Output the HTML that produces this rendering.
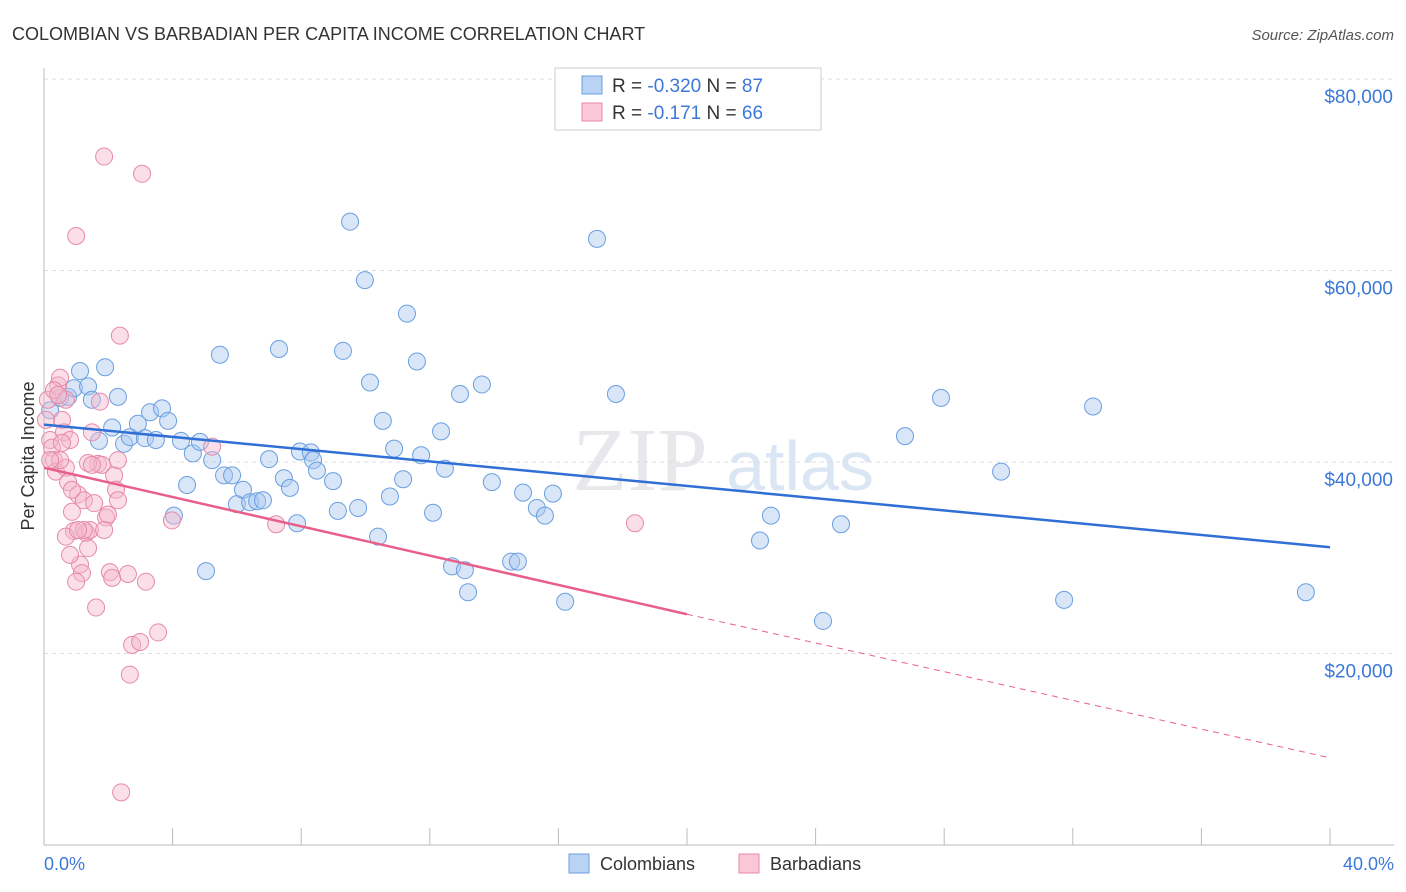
<!DOCTYPE html>
<html><head><meta charset="utf-8"><style>
body{margin:0;background:#fff;font-family:"Liberation Sans",sans-serif}
svg{display:block}
</style></head><body>
<svg id="chart" width="1406" height="892">
<text x="12" y="40" font-size="18" fill="#333">COLOMBIAN VS BARBADIAN PER CAPITA INCOME CORRELATION CHART</text>
<text x="1394" y="40" font-size="15" fill="#555" font-style="italic" text-anchor="end">Source: ZipAtlas.com</text>
<text x="640" y="490" font-size="90" fill="#e8e8ec" font-family="Liberation Serif" text-anchor="middle">ZIP</text>
<text x="800" y="490" font-size="70" fill="#dbe6f5" text-anchor="middle">atlas</text>
<g id="grid"></g><g id="axes"></g><g id="pts"></g><g id="lines"></g>
<text transform="translate(34,456) rotate(-90)" font-size="18" fill="#333" text-anchor="middle">Per Capita Income</text>
<text x="44" y="870" font-size="18" fill="#3c78d8">0.0%</text>
<text x="1394" y="870" font-size="18" fill="#3c78d8" text-anchor="end">40.0%</text>
<g>
<rect x="555" y="68" width="266" height="62" fill="#fff" stroke="#ccc"/>
<rect x="582" y="76" width="20" height="18" fill="#b9d3f5" stroke="#6a9fe0"/>
<rect x="582" y="103" width="20" height="18" fill="#f9c7d6" stroke="#e88aa8"/>
<text x="612" y="92" font-size="19" fill="#333">R = <tspan fill="#3c78d8">-0.320</tspan>   N = <tspan fill="#3c78d8">87</tspan></text>
<text x="612" y="119" font-size="19" fill="#333">R =   <tspan fill="#3c78d8">-0.171</tspan>   N = <tspan fill="#3c78d8">66</tspan></text>
</g>
<g>
<rect x="569" y="854" width="20" height="19" fill="#b9d3f5" stroke="#6a9fe0"/>
<text x="600" y="870" font-size="18" fill="#333">Colombians</text>
<rect x="739" y="854" width="20" height="19" fill="#f9c7d6" stroke="#e88aa8"/>
<text x="770" y="870" font-size="18" fill="#333">Barbadians</text>
</g>
</svg>
<script>
const yTicks=[20000,40000,60000,80000];
const yTickLabels=["$20,000","$40,000","$60,000","$80,000"];
const xTicks=[0,4,8,12,16,20,24,28,32,36,40];
const blueX=[0.19,0.50,0.75,0.93,1.12,1.37,1.49,1.71,1.90,2.12,2.30,2.49,2.67,2.92,3.14,3.30,3.48,3.67,3.86,4.04,4.26,4.45,4.63,4.85,5.04,5.23,5.47,5.60,5.85,6.00,6.19,6.41,6.63,6.81,7.00,7.31,7.46,7.65,7.87,7.96,8.30,8.37,8.49,8.99,9.14,9.30,9.52,9.77,9.98,10.14,10.39,10.54,10.76,10.89,11.17,11.29,11.60,11.73,12.10,12.35,12.47,12.69,12.94,13.09,13.19,13.62,13.93,14.53,14.74,14.90,15.33,15.58,15.83,16.21,17.20,17.79,22.27,22.61,24.23,24.79,26.78,27.90,29.77,31.73,32.63,39.25];
const blueY=[45.4,46.7,46.8,47.7,49.5,47.9,46.5,42.2,49.9,43.6,46.8,41.9,42.6,44.0,42.5,45.2,42.3,45.6,44.3,34.4,42.2,37.6,40.9,42.1,28.6,40.2,51.2,38.6,38.6,35.6,37.1,35.8,35.9,36.0,40.3,51.8,38.3,37.3,33.6,41.1,41.0,40.2,39.1,38.0,34.9,51.6,65.1,35.2,59.0,48.3,32.2,44.3,36.4,41.4,38.2,55.5,50.5,40.7,34.7,43.2,39.3,29.1,47.1,28.7,26.4,48.1,37.9,29.6,29.6,36.8,35.2,34.4,36.7,25.4,63.3,47.1,31.8,34.4,23.4,33.5,42.7,46.7,39.0,25.6,45.8,26.4];
const pinkX=[0.19,0.25,0.31,0.37,0.44,0.50,0.56,0.62,0.68,0.75,0.81,0.87,0.93,1.00,1.06,1.12,1.18,1.24,1.31,1.37,1.43,1.49,1.56,1.62,1.68,1.74,1.80,1.87,1.93,1.99,2.05,2.12,2.18,2.24,2.30,2.36,2.61,2.74,2.67,2.99,3.05,3.17,3.55,3.98,5.23,7.22,18.38,2.40,0.06,0.12,0.56,0.68,0.81,1.00,1.24,1.37,0.50,0.31,1.06,1.49,1.87,2.30,0.19,0.68,0.87,0.44];
const pinkY=[42.3,41.5,40.2,39.0,48.0,48.8,44.4,43.1,39.4,37.9,42.3,34.8,32.8,63.6,36.6,29.3,28.4,36.0,32.6,31.0,32.9,43.1,35.7,24.8,39.8,46.3,39.7,71.9,34.2,34.5,28.5,27.9,38.6,37.1,36.0,53.2,28.3,20.9,17.8,21.2,70.1,27.5,22.2,33.9,41.6,33.5,33.6,5.5,44.4,46.5,42.0,32.2,30.3,27.5,32.9,39.9,40.2,47.5,32.9,39.7,32.9,40.2,40.2,46.5,37.1,47.0];
const blueTrend=[43.9,31.1];
const pinkTrend=[39.4,24.1,9.1];
const NS="http://www.w3.org/2000/svg";
const sx=v=>44+v*32.15;
const sy=v=>845-v/20000*191.5;
function mk(tag,attrs,parent){const e=document.createElementNS(NS,tag);for(const k in attrs)e.setAttribute(k,attrs[k]);document.getElementById(parent).appendChild(e);return e;}
yTicks.forEach((t,i)=>{
 const l=mk('line',{x1:44,x2:1394,y1:sy(t),y2:sy(t),stroke:'#ddd','stroke-dasharray':'4,4'},'grid');
 
 
 const tx=mk('text',{x:1393,y:sy(t)+24,'font-size':19,fill:'#3c78d8','text-anchor':'end'},'grid');
 tx.textContent=yTickLabels[i];
 
 
});
const ax=mk('line',{x1:44,x2:1394,y1:845,y2:845,stroke:'#bbb'},'axes');


const ay=mk('line',{x1:44,x2:44,y1:68,y2:845,stroke:'#bbb'},'axes');


xTicks.forEach(t=>{
 const l=mk('line',{x1:sx(t),x2:sx(t),y1:828,y2:845,stroke:'#bbb'},'axes');
 
 
});
blueX.forEach((x,i)=>{
 const c=mk('circle',{cx:sx(x),cy:sy(blueY[i]*1000),r:8.5,fill:'rgba(168,200,240,0.45)',stroke:'#6a9fe0','stroke-width':1},'pts');
 
 
});
pinkX.forEach((x,i)=>{
 const c=mk('circle',{cx:sx(x),cy:sy(pinkY[i]*1000),r:8.5,fill:'rgba(245,184,204,0.45)',stroke:'#e88aa8','stroke-width':1},'pts');
 
 
});
const bl=mk('line',{x1:sx(0),y1:sy(blueTrend[0]*1000),x2:sx(40),y2:sy(blueTrend[1]*1000),stroke:'#2f6fd6','stroke-width':2.5},'lines');


const pl=mk('line',{x1:sx(0),y1:sy(pinkTrend[0]*1000),x2:sx(20),y2:sy(pinkTrend[1]*1000),stroke:'#e8608a','stroke-width':2.5},'lines');


const pd=mk('line',{x1:sx(20),y1:sy(pinkTrend[1]*1000),x2:sx(40),y2:sy(pinkTrend[2]*1000),stroke:'#e8608a','stroke-width':1,'stroke-dasharray':'6,5'},'lines');


</script>
</body></html>
